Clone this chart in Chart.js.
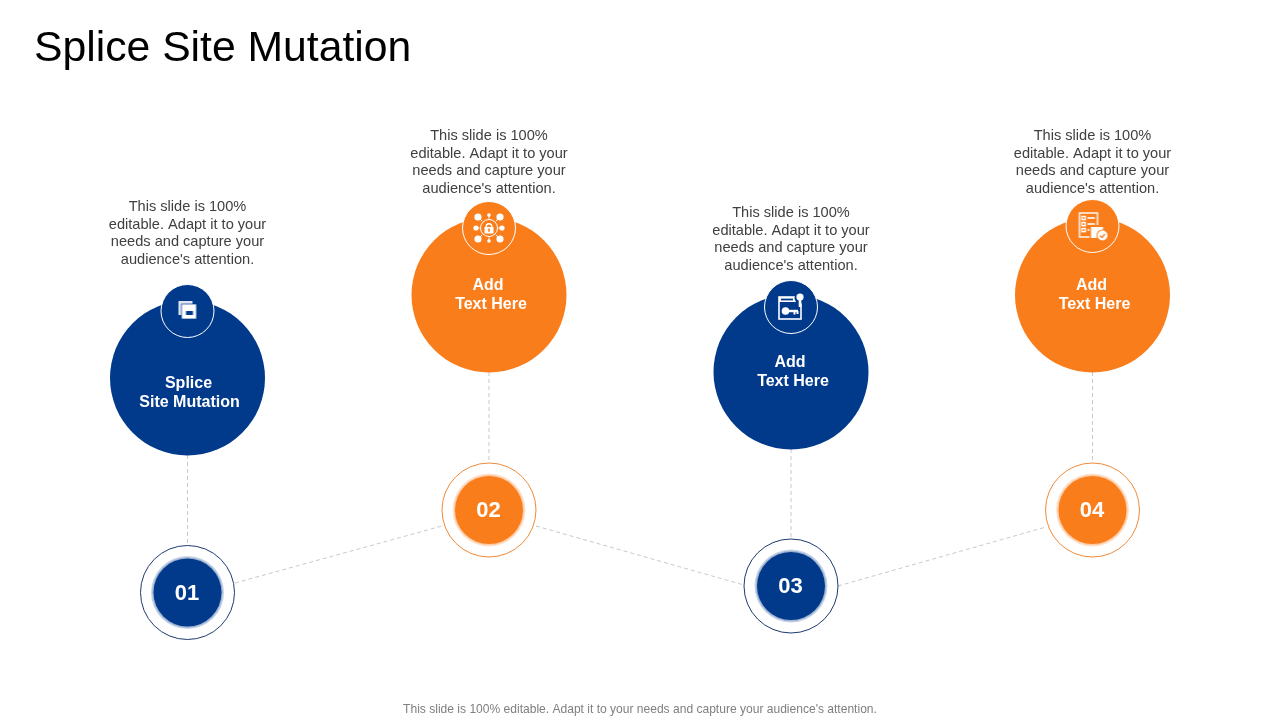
<!DOCTYPE html>
<html>
<head>
<meta charset="utf-8">
<title>Splice Site Mutation</title>
<script src="https://cdn.jsdelivr.net/npm/chart.js@4/dist/chart.umd.min.js"></script>
<style>
	html, body { margin: 0; padding: 0; background: #fff; }
	canvas { display: block; }
</style>
</head>
<body>
<canvas id="slideChart" width="1280" height="720"></canvas>
<script>
const slideTitle = "Splice Site Mutation";
const footerText = "This slide is 100% editable. Adapt it to your needs and capture your audience's attention.";
const noteLines = ["This slide is 100%", "editable. Adapt it to your", "needs and capture your", "audience's attention."];
const stepLabels = ["01", "02", "03", "04"];
const bigLabels = [["Splice", "Site Mutation"], ["Add", "Text Here"], ["Add", "Text Here"], ["Add", "Text Here"]];
const bigLabelShift = [[1, 2], [-1, 2], [-1, 2], [-1, 2]];

const stepX = [187.5, 489, 791, 1092.5];
const bigY = [378, 295, 372, 295];
const iconY = [311, 228, 307, 226];
const numberY = [592.5, 510, 586, 510];
const noteY = [207, 136, 213, 136];
const labelY = [384, 286, 363, 286];
const linkX = [[235, 442], [536, 744], [838, 1046]];
const linkY = [[583, 526], [526, 585], [586, 527]];

const BLUE = "#023a8b";
const ORANGE = "#fa7d1b";
const stepColors = [BLUE, ORANGE, BLUE, ORANGE];
const ringColors = ["#1c3a70", "#ee8a3a", "#1c3a70", "#ee8a3a"];
const glowColors = ["rgba(2,58,139,0.22)", "rgba(250,125,27,0.22)", "rgba(2,58,139,0.22)", "rgba(250,125,27,0.22)"];
const FONT = '"Liberation Sans", Arial, sans-serif';

function iconCanvas(draw) {
	const c = document.createElement("canvas");
	c.width = 32;
	c.height = 32;
	const g = c.getContext("2d");
	g.fillStyle = "#fff";
	g.strokeStyle = "#fff";
	draw(g);
	return c;
}

function dot(g, x, y, r) {
	g.beginPath();
	g.arc(x, y, r, 0, Math.PI * 2);
	g.fill();
}

// box with a small slot
const boxIcon = iconCanvas((g) => {
	g.fillStyle = "#dfe6f2";
	g.fillRect(7, 6, 14, 14);
	g.fillStyle = "#fff";
	g.fillRect(10, 9, 15, 15);
	g.fillStyle = BLUE;
	g.fillRect(14.5, 16, 7, 4);
	g.strokeStyle = BLUE;
	g.lineWidth = 0.7;
	g.strokeRect(10, 9, 15, 15);
});

// lock in the middle of a small network
const lockIcon = iconCanvas((g) => {
	const spots = [[5, 5, 3.6], [27, 5, 3.6], [5, 27, 3.6], [27, 27, 3.6], [16, 3, 1.8], [16, 29, 1.8], [3, 16, 2.6], [29, 16, 2.6]];
	g.lineWidth = 1;
	spots.forEach(([x, y, r]) => {
		g.beginPath();
		g.moveTo(16, 16);
		g.lineTo(x, y);
		g.stroke();
		dot(g, x, y, r);
	});
	g.fillStyle = ORANGE;
	dot(g, 16, 16, 9.5);
	g.strokeStyle = "#fff";
	g.lineWidth = 1;
	g.beginPath();
	g.arc(16, 16, 8.5, 0, Math.PI * 2);
	g.stroke();
	g.fillStyle = "#fff";
	g.fillRect(11.5, 15, 9, 6.5);
	g.lineWidth = 1.5;
	g.beginPath();
	g.arc(16, 14.5, 2.8, Math.PI, 0);
	g.lineTo(18.8, 15.5);
	g.moveTo(13.2, 14.5);
	g.lineTo(13.2, 15.5);
	g.stroke();
	g.fillStyle = ORANGE;
	g.fillRect(15.2, 16.5, 1.6, 3.2);
});

// browser window with a key and a badge
const keyIcon = iconCanvas((g) => {
	g.lineWidth = 1.6;
	g.strokeRect(4, 6, 22, 22);
	g.fillRect(4, 6, 22, 5);
	g.fillStyle = BLUE;
	g.fillRect(6, 7.6, 12, 1.8);
	g.fillStyle = "#fff";
	dot(g, 10.5, 20, 3.8);
	g.fillRect(13, 18.8, 10, 2.4);
	g.fillRect(18.5, 20, 2, 3.5);
	g.fillRect(21.5, 20, 2, 3);
	g.fillStyle = BLUE;
	dot(g, 25, 7, 5.5);
	g.fillStyle = "#fff";
	dot(g, 25, 6, 3.6);
	g.fillRect(23.7, 8, 2.6, 8);
});

// checklist with a parcel and a tick
const listIcon = iconCanvas((g) => {
	g.lineWidth = 1.4;
	g.strokeRect(3, 3, 18, 24);
	[8, 14, 20].forEach((y) => {
		g.lineWidth = 1.4;
		g.strokeRect(5.5, y - 1.5, 3.2, 3.2);
		g.lineWidth = 1.6;
		g.beginPath();
		g.moveTo(11, y);
		g.lineTo(18.5, y);
		g.stroke();
	});
	g.fillStyle = ORANGE;
	g.fillRect(13, 15, 19, 17);
	g.fillStyle = "#fff";
	g.fillRect(14.5, 17, 12, 11);
	g.fillStyle = ORANGE;
	dot(g, 26, 25.5, 6);
	g.fillStyle = "#fff";
	dot(g, 26, 25.5, 5);
	g.strokeStyle = ORANGE;
	g.lineWidth = 1.2;
	g.beginPath();
	g.moveTo(23.5, 25.5);
	g.lineTo(25.5, 27.5);
	g.lineTo(28.5, 24);
	g.stroke();
});

const stepIcons = [boxIcon, lockIcon, keyIcon, listIcon];

function toPoints(xs, ys) {
	return xs.map((x, i) => ({ x, y: ys[i] }));
}

function circleSet(ys, radius, fill, border, borderWidth, order) {
	return {
		type: "scatter",
		data: toPoints(stepX, ys),
		pointRadius: radius,
		pointHoverRadius: radius,
		pointBackgroundColor: fill,
		pointBorderColor: border,
		pointBorderWidth: borderWidth,
		order,
	};
}

function dashedSet(points) {
	return {
		type: "line",
		data: points,
		borderColor: "#c8c8c8",
		borderWidth: 1,
		borderDash: [4, 3],
		pointRadius: 0,
		fill: false,
		order: 10,
	};
}

const datasets = [
	...linkX.map((xs, i) => dashedSet(toPoints(xs, linkY[i]))),
	...stepX.map((x, i) => dashedSet([{ x, y: bigY[i] }, { x, y: numberY[i] }])),
	circleSet(bigY, 77.5, stepColors, stepColors, 0, 9),
	circleSet(iconY, 26.5, stepColors, "#fff", 1, 8),
	{
		type: "scatter",
		data: toPoints(stepX, iconY),
		pointStyle: stepIcons,
		order: 7,
	},
	circleSet(numberY, 47, "#fff", ringColors, 1, 6),
	circleSet(numberY, 36.5, glowColors, "transparent", 0, 5),
	circleSet(numberY, 35.2, glowColors, "transparent", 0, 4),
	circleSet(numberY, 34, stepColors, stepColors, 0, 3),
];

const slideText = {
	id: "slideText",
	afterDatasetsDraw(chart) {
		const { ctx, scales } = chart;
		const px = (v) => scales.x.getPixelForValue(v);
		const py = (v) => scales.y.getPixelForValue(v);
		ctx.save();
		ctx.textBaseline = "middle";

		ctx.textAlign = "left";
		ctx.fillStyle = "#000";
		ctx.font = `42.7px ${FONT}`;
		ctx.fillText(slideTitle, px(34), py(49));

		ctx.textAlign = "center";
		stepX.forEach((x, i) => {
			ctx.fillStyle = "#404040";
			ctx.font = `14.6px ${FONT}`;
			noteLines.forEach((line, j) => {
				ctx.fillText(line, px(x), py(noteY[i] + j * 17.7));
			});

			ctx.fillStyle = "#fff";
			ctx.font = `bold 16px ${FONT}`;
			bigLabels[i].forEach((line, j) => {
				ctx.fillText(line, px(x + bigLabelShift[i][j]), py(labelY[i] + j * 19));
			});

			ctx.font = `bold 22px ${FONT}`;
			ctx.fillText(stepLabels[i], px(x - 0.5), py(numberY[i] + 1));
		});

		ctx.fillStyle = "#7f7f7f";
		ctx.font = `12.05px ${FONT}`;
		ctx.fillText(footerText, px(640), py(709.5));
		ctx.restore();
	},
};

new Chart(document.getElementById("slideChart"), {
	data: { datasets },
	options: {
		responsive: false,
		animation: false,
		events: [],
		layout: { padding: 0, autoPadding: false },
		plugins: { legend: { display: false }, tooltip: { enabled: false }, title: { display: false } },
		scales: {
			x: { type: "linear", min: 0, max: 1280, display: false },
			y: { type: "linear", min: 0, max: 720, reverse: true, display: false },
		},
	},
	plugins: [slideText],
});
</script>
</body>
</html>
